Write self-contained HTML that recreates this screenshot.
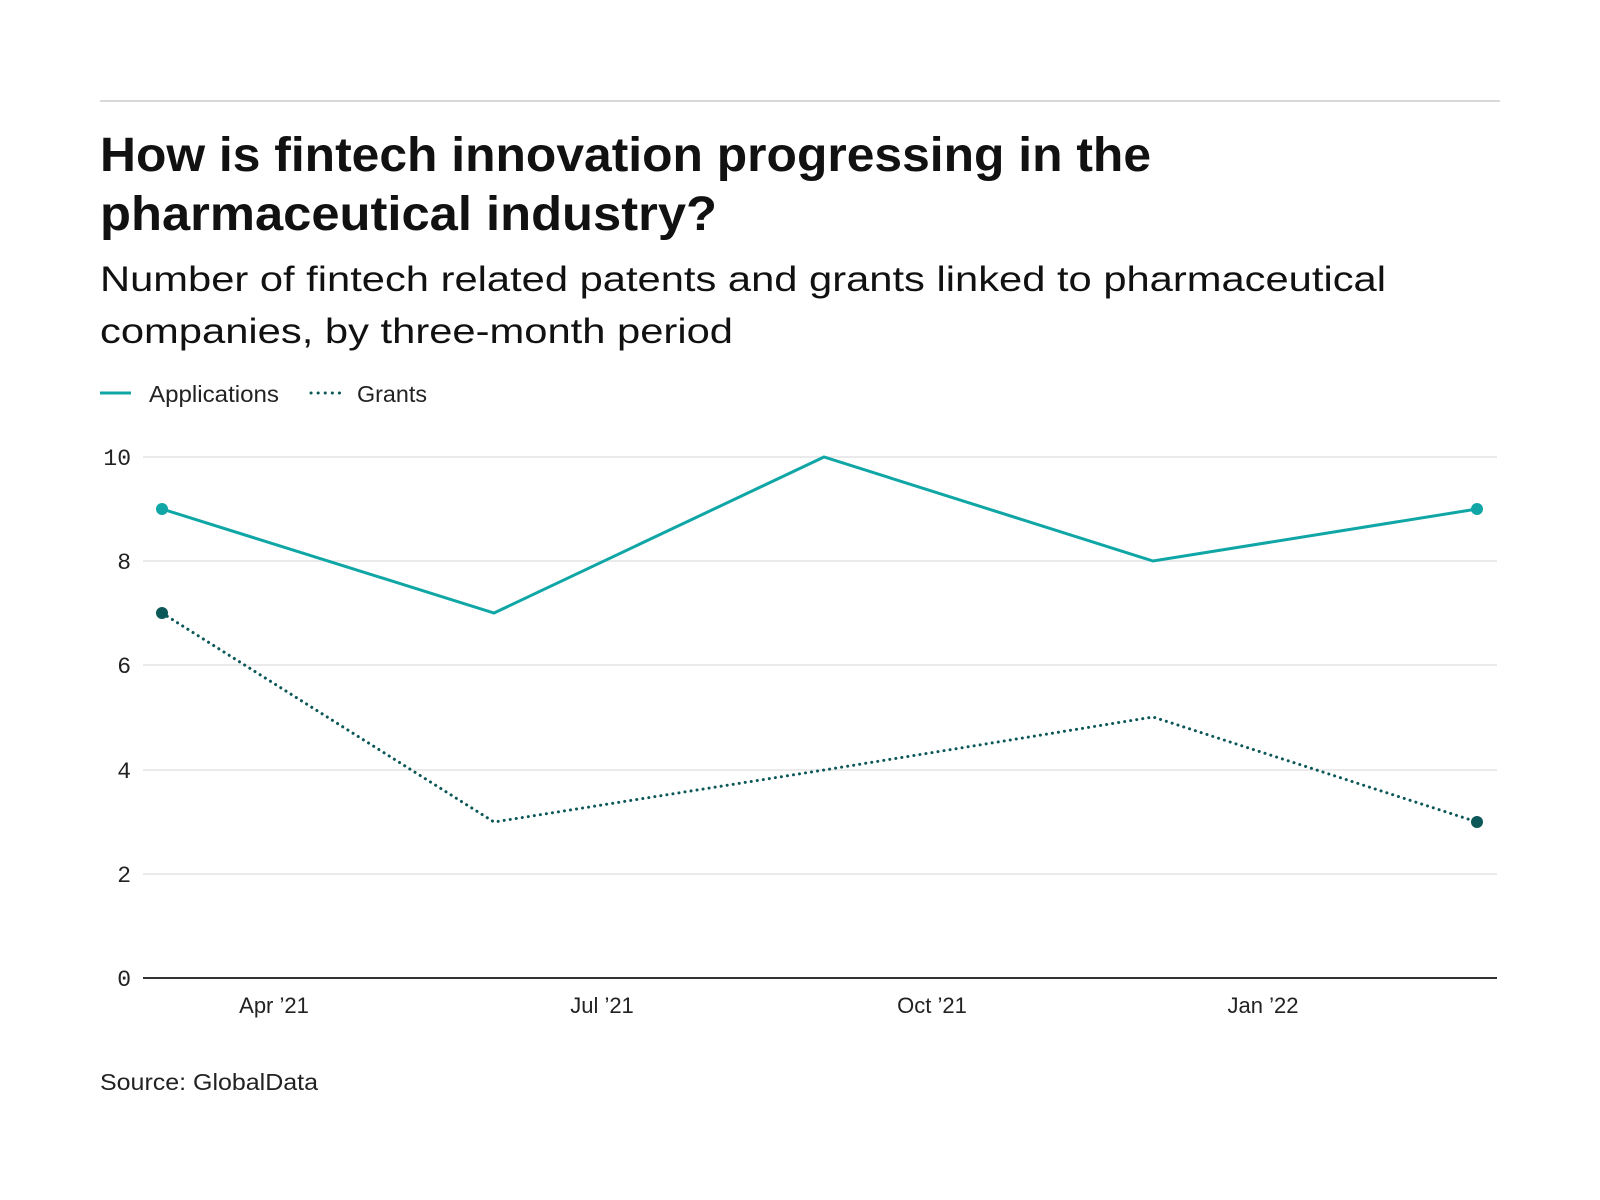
<!DOCTYPE html>
<html><head><meta charset="utf-8"><style>
html,body{margin:0;padding:0;background:#fff;}
svg{display:block;}
</style></head><body>
<svg width="1600" height="1200" viewBox="0 0 1600 1200" xmlns="http://www.w3.org/2000/svg" font-family="Liberation Sans, sans-serif">
<rect width="1600" height="1200" fill="#fff"/>
<line x1="100" y1="101" x2="1500" y2="101" stroke="#d9d9d9" stroke-width="2"/>
<text x="100" y="171" font-size="48" font-weight="bold" fill="#111" textLength="1051" lengthAdjust="spacingAndGlyphs">How is fintech innovation progressing in the</text>
<text x="100" y="230" font-size="48" font-weight="bold" fill="#111" textLength="617" lengthAdjust="spacingAndGlyphs">pharmaceutical industry?</text>
<text x="100" y="291" font-size="35" fill="#111" textLength="1286" lengthAdjust="spacingAndGlyphs">Number of fintech related patents and grants linked to pharmaceutical</text>
<text x="100" y="343" font-size="35" fill="#111" textLength="633" lengthAdjust="spacingAndGlyphs">companies, by three-month period</text>
<line x1="100" y1="393" x2="131" y2="393" stroke="#10a6a6" stroke-width="3"/>
<text x="149" y="402" font-size="23" fill="#222" textLength="130" lengthAdjust="spacingAndGlyphs">Applications</text>
<line x1="311" y1="393" x2="342" y2="393" stroke="#0c5757" stroke-width="3" stroke-dasharray="0.1,7" stroke-linecap="round"/>
<text x="357" y="402" font-size="23" fill="#222" textLength="70" lengthAdjust="spacingAndGlyphs">Grants</text>
<g stroke="#e3e3e3" stroke-width="1.5">
<line x1="143" y1="457" x2="1497" y2="457"/>
<line x1="143" y1="561" x2="1497" y2="561"/>
<line x1="143" y1="665" x2="1497" y2="665"/>
<line x1="143" y1="770" x2="1497" y2="770"/>
<line x1="143" y1="874" x2="1497" y2="874"/>
</g>
<line x1="143" y1="978" x2="1497" y2="978" stroke="#333" stroke-width="2"/>
<g font-family="Liberation Mono, monospace" font-size="23" fill="#222" text-anchor="end">
<text x="131" y="465">10</text>
<text x="131" y="569">8</text>
<text x="131" y="673">6</text>
<text x="131" y="778">4</text>
<text x="131" y="882">2</text>
<text x="131" y="986">0</text>
</g>
<g font-size="22" fill="#222" text-anchor="middle">
<text x="274" y="1013">Apr ’21</text>
<text x="602" y="1013">Jul ’21</text>
<text x="932" y="1013">Oct ’21</text>
<text x="1263" y="1013">Jan ’22</text>
</g>
<polyline fill="none" stroke="#10a6a6" stroke-width="3" points="162,509 494,613 824,457 1153,561 1477,509"/>
<circle cx="162" cy="509" r="6" fill="#10a6a6"/>
<circle cx="1477" cy="509" r="6" fill="#10a6a6"/>
<polyline fill="none" stroke="#0c5757" stroke-width="3" stroke-dasharray="0.1,6" stroke-linecap="round" points="162,613 494,822 824,770 1153,717 1477,822"/>
<circle cx="162" cy="613" r="6" fill="#0c5757"/>
<circle cx="1477" cy="822" r="6" fill="#0c5757"/>
<text x="100" y="1090" font-size="23" fill="#222" textLength="218" lengthAdjust="spacingAndGlyphs">Source: GlobalData</text>
</svg>
</body></html>
